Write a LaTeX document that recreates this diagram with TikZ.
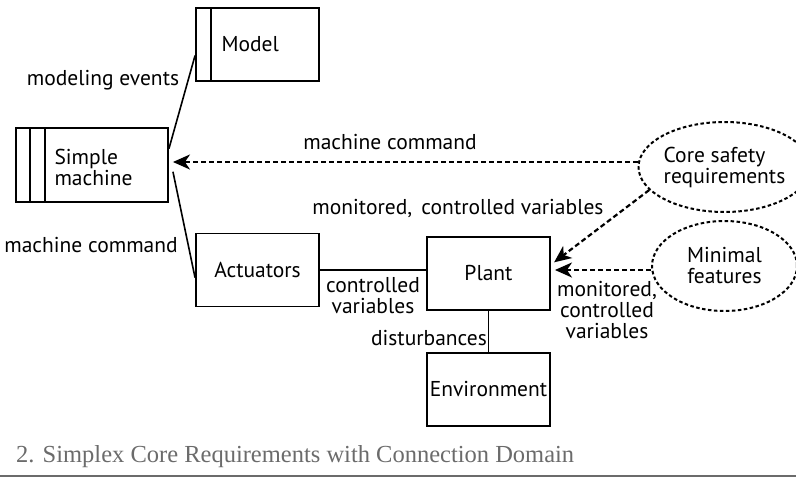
\documentclass[tikz,border=0pt]{standalone}
\usepackage{fontspec}
\setmainfont{PT Sans}
\newfontfamily\capfont{Liberation Serif}
\usetikzlibrary{shapes.geometric,arrows.meta}
\definecolor{capgray}{gray}{0.42}

\begin{document}
\begin{tikzpicture}[x = 1pt, y = -1pt,
        font = \fontsize{21.5}{21}\selectfont,
        box/.style = {draw, line width = 1.9pt, minimum width = 123pt,
                      minimum height = 73pt, inner sep = 0pt},
        req/.style = {draw, ellipse, line width = 2pt,
                      dash pattern = on 3.5pt off 2.5pt, minimum width = 145pt,
                      minimum height = 90pt, inner sep = 0pt},
        link/.style = {line width = 1.6pt},
        dasharrow/.style = {line width = 2.2pt, dash pattern = on 5pt off 3pt,
                            -{Stealth[length = 17pt, width = 15pt, inset = 5pt]}, shorten > = 4pt}]
        \useasboundingbox (0,0) rectangle (796,477);

        % boxes
        \node[box] (Model) at (257.5,44.5) {};
        \draw[line width = 1.9pt] ([xshift = 16pt]Model.north west) -- ([xshift = 16pt]Model.south west);
        \node[anchor = west] (ModelTxt) at (218,44.5) {Model};

        \node[box, minimum width = 152pt, minimum height = 74pt] (Smach) at (92,165) {};
        \draw[line width = 1.9pt] ([xshift = 15pt]Smach.north west) -- ([xshift = 15pt]Smach.south west);
        \draw[line width = 1.9pt] ([xshift = 30pt]Smach.north west) -- ([xshift = 30pt]Smach.south west);
        \node[anchor = west, align = left] (SmachTxt) at (51,167) {Simple\\machine};

        \node[box] (Act) at (257.5,270) {Actuators};
        \node[box] (Plant) at (488.5,273.5) {Plant};
        \node[box] (Env) at (488.5,389.5) {Environment};

        \node[req, align = left] (Core) at (724.5,167) {Core safety\\requirements};
        \node[req, align = center] (Mini) at (724.5,266) {Minimal\\features};

        % connectors
        \draw[link] (Model.190) -- (Smach.12);
        \draw[link] ([xshift = 4pt]Smach.-5) -- (Act.187);
        \draw[link] (Act.east) -- (Act.east -| Plant.west);
        \draw[link] (Plant.south) -- (Env.north);
        \draw[dasharrow] ([yshift = 5pt]Core.west) -- ([yshift = 5pt]Core.west -| Smach.east);
        \draw[dasharrow] (Core.197) -- (Plant.8);
        \draw[dasharrow] ([yshift = -4pt]Mini.west) -- ([yshift = -4pt]Mini.west -| Plant.east);

        % labels
        \node (lModel) at (103,80) {modeling events};
        \node (lCmdTop) at (390,142) {machine command};
        \node (lMon) at (458,208) {monitored,\, controlled variables};
        \node (lCmdLeft) at (91,245) {machine command};
        \node[align = center] (lCtrl) at (373,296) {controlled\\variables};
        \node (lDist) at (429,338) {disturbances};
        \node[align = center] (lMon2) at (607,310) {monitored,\\controlled\\variables};

        % caption
        \node[anchor = base west, inner sep = 0pt, text = capgray,
              font = \capfont\fontsize{24.5}{26}\selectfont] (Cap) at (16,462)
              {2. Simplex Core Requirements with Connection Domain};
        \draw[capgray, line width = 2pt] (0,475.5) -- (796,475.5);
      \end{tikzpicture}
\end{document}
